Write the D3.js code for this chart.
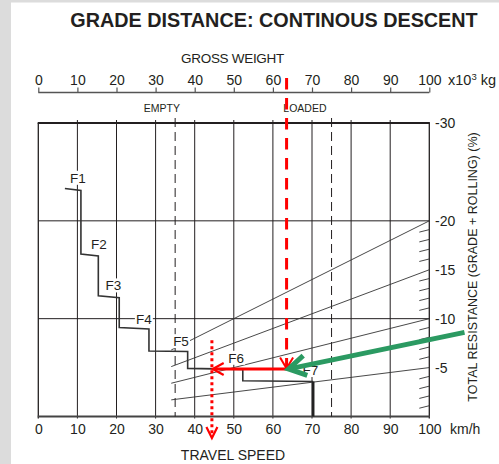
<!DOCTYPE html>
<html>
<head>
<meta charset="utf-8">
<script src="https://cdn.jsdelivr.net/npm/d3@7/dist/d3.min.js"></script>
<style>
  html, body { margin: 0; padding: 0; background: #fff; }
  svg { display: block; font-family: "Liberation Sans", Arial, sans-serif; }
</style>
</head>
<body>
<svg id="chart" width="499" height="464"></svg>
<script>
// ---------- data ----------
const titleText = "GRADE DISTANCE: CONTINOUS DESCENT";
const speedTicks = [0, 10, 20, 30, 40, 50, 60, 70, 80, 90, 100];
const weightTicks = [0, 10, 20, 30, 40, 50, 60, 70, 80, 90, 100];
const resistanceTicks = [30, 20, 15, 10, 5];
const resistanceGrid = [20, 10];
const resistanceLines = [5, 10, 15, 20];
const minorResistanceTicks = [1, 2, 3, 4, 6, 7, 8, 9, 11, 12, 13, 14, 16, 17, 18, 19];
const truckWeights = [35, 75];
const truckWeightLabels = ["EMPTY", "LOADED"];
const truckLabelWeights = [31.6, 68.2];
const lineStartWeight = 34;
// braking performance (gear) curve: [speed km/h, effective resistance %]
const gearCurve = [
  [6.8, 23.3], [10.9, 23.1], [10.9, 16.6], [15.35, 16.4], [15.35, 12.35],
  [20.7, 12.15], [20.7, 9.1], [28.3, 8.95], [28.3, 6.7], [38.2, 6.65],
  [38.2, 4.92], [52.3, 4.82], [52.3, 3.66], [70.3, 3.58]
];
const finalDrop = [[70.3, 3.58], [70.3, 0]];
const gearNames = ["F1", "F2", "F3", "F4", "F5", "F6", "F7"];
const gearLabelSpeed = [10.1, 15.5, 19.2, 27.0, 36.5, 50.6, 69.6];
const gearLabelResistance = [24.4, 17.6, 13.4, 10.0, 7.7, 6.0, 4.75];
// worked example
const exampleWeight = 63.5;
const exampleTop = 34.6;
const exampleResistance = 4.86;
const exampleSpeed = 44.6;
const speedArrowTop = 7.8;
const speedArrowBottom = -2.2;
const pointerStart = [109, 8.6];

// ---------- layout ----------
const svg = d3.select("#chart");
const x = d3.scaleLinear().domain([0, 100]).range([38.3, 429.3]);
const y = d3.scaleLinear().domain([0, 30]).range([416.5, 123]);
const ink = "#231f20";
const red = "#ff0000";
const green = "#2b9a62";

// screenshot frame
svg.append("rect").attr("x", 0).attr("y", 0).attr("width", 11).attr("height", 464).attr("fill", "#dcdcdc");
svg.append("rect").attr("x", 0).attr("y", 0).attr("width", 499).attr("height", 2.5).attr("fill", "#dcdcdc");

// title
svg.append("text").attr("x", 274).attr("y", 27).attr("text-anchor", "middle")
  .attr("font-weight", "bold").attr("font-size", 19.8).attr("fill", ink).text(titleText);

// top weight axis
const topAxisY = 92.5;
const gTop = svg.append("g").attr("transform", `translate(0,${topAxisY})`);
gTop.call(d3.axisTop(x).tickValues(weightTicks).tickSize(5).tickPadding(3).tickFormat(d3.format("d")));
gTop.select(".domain").attr("stroke", "#555").attr("stroke-width", 1.5).attr("d", `M${x(0)},0H${x(100)}`);
gTop.selectAll(".tick line").attr("stroke", "#555").attr("stroke-width", 1.2);
gTop.selectAll(".tick text").attr("font-size", 14).attr("fill", ink).attr("font-family", "Liberation Sans, Arial, sans-serif");
svg.append("text").attr("x", 232.5).attr("y", 63).attr("text-anchor", "middle").attr("font-size", 13.5)
  .attr("fill", ink).attr("letter-spacing", -0.3).text("GROSS WEIGHT");
const unitTop = svg.append("text").attr("x", 448).attr("y", 85).attr("font-size", 14.5).attr("fill", ink);
unitTop.append("tspan").text("x10");
unitTop.append("tspan").attr("dy", -5).attr("font-size", 9.5).text("3");
unitTop.append("tspan").attr("dy", 5).text(" kg");

// EMPTY / LOADED labels
svg.selectAll("text.truck").data(truckWeightLabels).enter().append("text")
  .attr("class", "truck")
  .attr("x", (d, i) => x(truckLabelWeights[i])).attr("y", 111.5)
  .attr("text-anchor", "middle").attr("font-size", 10.5).attr("fill", ink).text(d => d);

// vertical gridlines
const gGrid = svg.append("g");
gGrid.selectAll("line.v").data(speedTicks.slice(1, -1)).enter().append("line")
  .attr("x1", d => x(d)).attr("x2", d => x(d)).attr("y1", y(30) - 3).attr("y2", y(0) + 2)
  .attr("stroke", ink).attr("stroke-width", 1);
gGrid.selectAll("line.h").data(resistanceGrid).enter().append("line")
  .attr("x1", x(0)).attr("x2", x(100)).attr("y1", d => y(d)).attr("y2", d => y(d))
  .attr("stroke", ink).attr("stroke-width", 1);
// frame
gGrid.append("line").attr("x1", x(0)).attr("x2", x(0)).attr("y1", y(30)).attr("y2", y(0) + 2).attr("stroke", ink).attr("stroke-width", 1.3);
gGrid.append("line").attr("x1", x(100)).attr("x2", x(100)).attr("y1", y(30)).attr("y2", y(0) + 2).attr("stroke", ink).attr("stroke-width", 1.3);
gGrid.append("line").attr("x1", x(0) - 0.6).attr("x2", x(100) + 0.6).attr("y1", y(30)).attr("y2", y(30)).attr("stroke", ink).attr("stroke-width", 2.2);
gGrid.append("line").attr("x1", x(0) - 0.6).attr("x2", x(100) + 0.6).attr("y1", y(0)).attr("y2", y(0)).attr("stroke", "#444").attr("stroke-width", 1.8);

// truck weight dashed lines
gGrid.selectAll("line.w").data(truckWeights).enter().append("line")
  .attr("x1", d => x(d)).attr("x2", d => x(d)).attr("y1", y(30) - 5).attr("y2", y(0))
  .attr("stroke", ink).attr("stroke-width", 1).attr("stroke-dasharray", "9,5");

// resistance lines radiating from the origin
const lineGen = d3.line().x(d => x(d[0])).y(d => y(d[1]));
svg.append("g").selectAll("path").data(resistanceLines).enter().append("path")
  .attr("d", r => lineGen([[lineStartWeight, r * lineStartWeight / 100], [100, r]]))
  .attr("fill", "none").attr("stroke", "#333").attr("stroke-width", 0.9);

// right minor ticks
svg.append("g").selectAll("line").data(minorResistanceTicks).enter().append("line")
  .attr("x1", x(100) - 10).attr("x2", x(100)).attr("y1", d => y(d) + 1.5).attr("y2", d => y(d) - 1)
  .attr("stroke", "#333").attr("stroke-width", 0.9);

// right axis labels
svg.append("g").selectAll("text").data(resistanceTicks).enter().append("text")
  .attr("x", 435).attr("y", d => y(d) + 5).attr("font-size", 14).attr("fill", ink)
  .text(d => "-" + d);
svg.append("text").attr("transform", "translate(477,267) rotate(-90)").attr("text-anchor", "middle")
  .attr("font-size", 12.5).attr("fill", ink).text("TOTAL RESISTANCE (GRADE + ROLLING) (%)");

// bottom axis
const gBot = svg.append("g").attr("transform", `translate(0,${y(0)})`);
gBot.call(d3.axisBottom(x).tickValues(speedTicks).tickSize(0).tickPadding(8).tickFormat(d3.format("d")));
gBot.select(".domain").remove();
gBot.selectAll(".tick text").attr("font-size", 14).attr("fill", ink).attr("font-family", "Liberation Sans, Arial, sans-serif");
svg.append("text").attr("x", 450).attr("y", 434).attr("font-size", 14).attr("fill", ink).text("km/h");
svg.append("text").attr("x", 233).attr("y", 460).attr("text-anchor", "middle").attr("font-size", 14)
  .attr("fill", ink).text("TRAVEL SPEED");

// gear labels with white background
const gLab = svg.append("g");
gearNames.forEach((name, i) => {
  const cx = x(gearLabelSpeed[i]), cy = y(gearLabelResistance[i]);
  gLab.append("rect").attr("x", cx - 9).attr("y", cy - 7).attr("width", 18).attr("height", 14).attr("fill", "#fff");
  gLab.append("text").attr("x", cx).attr("y", cy + 5).attr("text-anchor", "middle")
    .attr("font-size", 13.5).attr("fill", ink).text(name);
});

// gear curve
svg.append("path").attr("d", lineGen(gearCurve)).attr("fill", "none").attr("stroke", "#333").attr("stroke-width", 1.6);
svg.append("path").attr("d", lineGen(finalDrop)).attr("fill", "none").attr("stroke", "#222").attr("stroke-width", 2.6);

// red example lines
function vee(tx, ty, dirx, diry, len, half, color, width) {
  const px = -diry, py = dirx;
  const p1 = [tx - dirx * len + px * half, ty - diry * len + py * half];
  const p2 = [tx - dirx * len - px * half, ty - diry * len - py * half];
  svg.append("path").attr("d", `M${p1[0]},${p1[1]}L${tx},${ty}L${p2[0]},${p2[1]}`)
    .attr("fill", "none").attr("stroke", color).attr("stroke-width", width).attr("stroke-linecap", "butt").attr("stroke-linejoin", "miter");
}
svg.append("line").attr("x1", x(exampleWeight)).attr("x2", x(exampleWeight))
  .attr("y1", y(exampleTop)).attr("y2", y(exampleResistance) - 2)
  .attr("stroke", red).attr("stroke-width", 3).attr("stroke-dasharray", "11.5,8.5");
vee(x(exampleWeight), y(exampleResistance) - 0.5, 0, 1, 11, 6.5, red, 2);
svg.append("line").attr("x1", x(exampleWeight)).attr("x2", x(exampleSpeed) + 1)
  .attr("y1", y(exampleResistance)).attr("y2", y(exampleResistance))
  .attr("stroke", red).attr("stroke-width", 3);
vee(x(exampleSpeed), y(exampleResistance), -1, 0, 11, 6, red, 2.2);
svg.append("line").attr("x1", x(exampleSpeed - 0.2)).attr("x2", x(exampleSpeed - 0.2))
  .attr("y1", y(speedArrowTop)).attr("y2", y(speedArrowBottom) - 2)
  .attr("stroke", red).attr("stroke-width", 3).attr("stroke-dasharray", "3,3");
vee(x(exampleSpeed - 0.2), y(speedArrowBottom), 0, 1, 11, 5.5, red, 2.2);

// green pointer
const gx0 = x(pointerStart[0]), gy0 = y(pointerStart[1]);
const gx1 = x(exampleWeight) + 2, gy1 = y(exampleResistance);
const glen = Math.hypot(gx1 - gx0, gy1 - gy0);
const gdx = (gx1 - gx0) / glen, gdy = (gy1 - gy0) / glen;
svg.append("line").attr("x1", gx0).attr("y1", gy0).attr("x2", gx1 - gdx * 3).attr("y2", gy1 - gdy * 3)
  .attr("stroke", green).attr("stroke-width", 5);
vee(gx1, gy1, gdx, gdy, 17, 10, green, 5);
</script>
</body>
</html>
